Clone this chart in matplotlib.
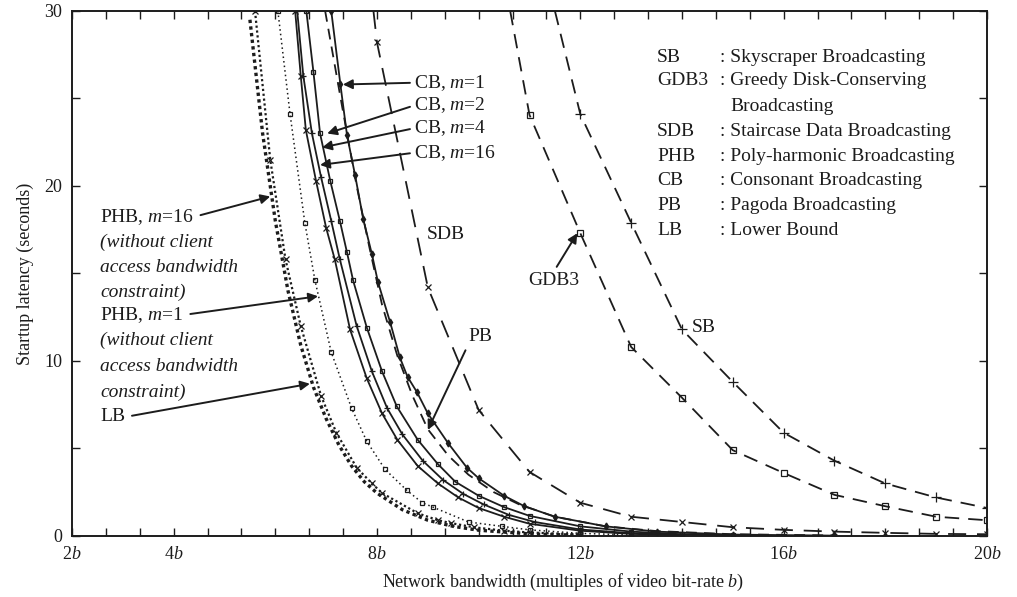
import matplotlib

matplotlib.use("Agg")

import matplotlib.pyplot as plt
from matplotlib.ticker import FixedLocator, FixedFormatter

plt.rcParams["font.family"] = ["Liberation Serif", "DejaVu Serif"]
plt.rcParams["mathtext.fontset"] = "custom"
plt.rcParams["mathtext.rm"] = "Liberation Serif"
plt.rcParams["mathtext.it"] = "Liberation Serif:italic"

INK = "#1c1c1c"

# bandwidth (multiples of b) vs startup latency (s)
LB_X = [5.5, 5.75, 6.0, 6.25, 6.5, 6.75, 7.0, 7.25, 7.5, 7.75, 8.0, 8.5, 9.0, 9.5, 10.0, 11.0, 12.0]
LB_Y = [29.5, 23.0, 18.0, 14.0, 10.9, 8.5, 6.7, 5.2, 4.0, 3.1, 2.45, 1.5, 0.9, 0.55, 0.33, 0.12, 0.04]

PHB16_X = [5.6, 5.9, 6.2, 6.5, 6.9, 7.2, 7.6, 7.9, 8.1, 8.8, 9.2, 9.45, 9.9, 10.5, 11.0, 12.0]
PHB16_Y = [30.0, 21.5, 15.8, 12.0, 8.0, 5.9, 3.9, 3.0, 2.45, 1.3, 0.9, 0.74, 0.5, 0.3, 0.2, 0.08]

PHB1_X = [6.05, 6.29, 6.58, 6.78, 7.1, 7.5, 7.8, 8.16, 8.59, 8.89, 9.1, 9.8, 10.46, 11.0, 12.0, 13.0]
PHB1_Y = [30.0, 24.1, 17.9, 14.6, 10.5, 7.3, 5.4, 3.8, 2.6, 1.9, 1.65, 0.8, 0.55, 0.35, 0.15, 0.06]

CB16_X = [6.39, 6.5, 6.6, 6.8, 7.0, 7.17, 7.47, 7.8, 8.1, 8.4, 8.8, 9.2, 9.6, 10.0, 10.5, 11.0, 12.0, 13.0, 14.0]
CB16_Y = [30.0, 26.3, 23.2, 20.3, 17.6, 15.8, 11.8, 9.0, 7.0, 5.5, 4.0, 3.0, 2.2, 1.6, 1.1, 0.7, 0.3, 0.12, 0.05]

CB4_X = [6.43, 6.55, 6.72, 6.9, 7.1, 7.27, 7.6, 7.9, 8.2, 8.5, 8.9, 9.3, 9.7, 10.1, 10.6, 11.1, 12.0, 13.0, 14.0]
CB4_Y = [30.0, 26.3, 23.0, 20.5, 18.0, 15.8, 12.0, 9.4, 7.3, 5.8, 4.3, 3.2, 2.4, 1.8, 1.2, 0.8, 0.37, 0.16, 0.06]

CB2_X = [6.61, 6.75, 6.88, 7.08, 7.27, 7.41, 7.53, 7.8, 8.1, 8.39, 8.8, 9.2, 9.54, 10.0, 10.5, 11.0, 12.0, 13.0, 14.0, 15.0]
CB2_Y = [30.0, 26.5, 23.0, 20.3, 18.0, 16.2, 14.6, 11.9, 9.4, 7.4, 5.5, 4.1, 3.1, 2.3, 1.65, 1.15, 0.55, 0.25, 0.1, 0.04]

CB1_X = [7.1, 7.28, 7.41, 7.57, 7.73, 7.9, 8.02, 8.26, 8.45, 8.6, 8.79, 9.0, 9.4, 9.77, 10.0, 10.5, 10.9, 11.5,
         12.5, 13.5, 15.0, 17.0]
CB1_Y = [30.0, 25.8, 22.9, 20.6, 18.1, 16.1, 14.5, 12.2, 10.2, 9.1, 8.2, 7.0, 5.3, 3.9, 3.3, 2.3, 1.7, 1.1,
         0.55, 0.25, 0.08, 0.02]

PB_X = [6.98, 7.31, 7.6, 7.85, 8.1, 8.4, 8.7, 9.0, 9.4, 9.8, 10.3, 10.8, 11.5, 12.5, 13.5, 15.0, 17.0]
PB_Y = [30.0, 24.6, 20.0, 16.5, 13.2, 10.3, 8.0, 6.1, 4.6, 3.5, 2.5, 1.8, 1.1, 0.55, 0.28, 0.1, 0.03]

SDB_X = [7.93, 8, 9, 10, 11, 12, 13, 14, 15, 16, 17, 18, 19, 20]
SDB_Y = [30.0, 28.2, 14.2, 7.2, 3.66, 1.9, 1.1, 0.8, 0.5, 0.35, 0.25, 0.18, 0.12, 0.1]

GDB3_X = [10.62, 11, 12, 13, 14, 15, 16, 17, 18, 19, 20]
GDB3_Y = [30.0, 24.06, 17.3, 10.8, 7.9, 4.9, 3.6, 2.35, 1.7, 1.1, 0.9]

SB_X = [11.5, 12, 13, 14, 15, 16, 17, 18, 19, 20]
SB_Y = [30.0, 24.1, 17.9, 11.8, 8.8, 5.9, 4.3, 3.0, 2.2, 1.6]

XTICK_LABELS = {2: "2$b$", 4: "4$b$", 8: "8$b$", 12: "12$b$", 16: "16$b$", 20: "20$b$"}
YTICK_LABELS = {0: "0", 10: "10", 20: "20", 30: "30"}

LEGEND_ABBR = ["SB", "GDB3", "", "SDB", "PHB", "CB", "PB", "LB"]
LEGEND_DESC = [": Skyscraper Broadcasting", ": Greedy Disk-Conserving", "Broadcasting",
               ": Staircase Data Broadcasting", ": Poly-harmonic Broadcasting",
               ": Consonant Broadcasting", ": Pagoda Broadcasting", ": Lower Bound"]

PHB_NOTE = ["(without client", "access bandwidth", "constraint)"]


def mk(marker, size=4.5):
    return dict(marker=marker, markersize=size, markerfacecolor="none",
                markeredgecolor=INK, markeredgewidth=0.9)


fig = plt.figure(figsize=(10.17, 5.97), dpi=100)
ax = fig.add_axes([0.0708, 0.1022, 0.8997, 0.8794])

# dotted family (PHB, LB)
ax.plot(LB_X, LB_Y, color=INK, lw=2.4, linestyle=(0, (1, 1)))
ax.plot(PHB16_X, PHB16_Y, color=INK, lw=1.6, linestyle=(0, (1, 1.2)), **mk("x", 4))
ax.plot(PHB1_X, PHB1_Y, color=INK, lw=1.1, linestyle=(0, (1, 2)), **mk("s", 3.5))

# consonant broadcasting, solid
ax.plot(CB16_X, CB16_Y, color=INK, lw=1.3, **mk("x", 4))
ax.plot(CB4_X, CB4_Y, color=INK, lw=1.3, **mk("+", 4.5))
ax.plot(CB2_X, CB2_Y, color=INK, lw=1.3, **mk("s", 3.5))
ax.plot(CB1_X, CB1_Y, color=INK, lw=1.3, marker="d", markersize=3.5, markerfacecolor=INK,
        markeredgecolor=INK)

# dashed family
ax.plot(PB_X, PB_Y, color=INK, lw=1.3, linestyle=(0, (6, 4)))
ax.plot(SDB_X, SDB_Y, color=INK, lw=1.3, linestyle=(0, (10, 6)), markevery=slice(1, None), **mk("x", 5))
ax.plot(GDB3_X, GDB3_Y, color=INK, lw=1.3, linestyle=(0, (8, 5)), markevery=slice(1, None), **mk("s", 4))
ax.plot(SB_X, SB_Y, color=INK, lw=1.3, linestyle=(0, (8, 5)), markevery=slice(1, None), **mk("+", 7))

ax.set_xlim(2, 20)
ax.set_ylim(0, 30)

xt = [2 + k * 2 / 3 for k in range(28)]
ax.xaxis.set_major_locator(FixedLocator(xt))
ax.xaxis.set_major_formatter(FixedFormatter([XTICK_LABELS.get(round(v), "") if abs(v - round(v)) < 1e-6 else ""
                                             for v in xt]))
ax.yaxis.set_major_locator(FixedLocator([0, 5, 10, 15, 20, 25, 30]))
ax.yaxis.set_major_formatter(FixedFormatter([YTICK_LABELS.get(v, "") for v in [0, 5, 10, 15, 20, 25, 30]]))
ax.tick_params(direction="in", length=6, width=1.0, top=True, right=True, labelsize=13,
               colors=INK, pad=7)
for sp in ax.spines.values():
    sp.set_linewidth(1.4)
    sp.set_color(INK)

ax.set_ylabel("Startup latency (seconds)", fontsize=13, color=INK)
ax.yaxis.set_label_coords(-0.042, 0.5)
ax.set_xlabel("Network bandwidth (multiples of video bit-rate $b$)", fontsize=13, color=INK)
ax.xaxis.set_label_coords(0.537, -0.068)

arrow = dict(arrowstyle="-|>", color=INK, lw=1.4, mutation_scale=14, shrinkA=1, shrinkB=0)
fs = 14

# CB labels
cb_labels = ["CB, $m$=1", "CB, $m$=2", "CB, $m$=4", "CB, $m$=16"]
cb_text_y = [25.9, 24.6, 23.3, 21.9]
cb_tips = [(7.33, 25.8), (7.02, 23.0), (6.92, 22.2), (6.88, 21.2)]
for lab, ty, tip in zip(cb_labels, cb_text_y, cb_tips):
    ax.annotate(lab, xy=tip, xytext=(8.73, ty), fontsize=fs, ha="left", va="center", color=INK,
                arrowprops=dict(arrow, relpos=(0, 0.5)))

# PHB / LB labels on the left
ax.annotate("PHB, $m$=16", xy=(5.9, 19.4), xytext=(2.55, 18.23), fontsize=fs, ha="left", va="center",
            color=INK, arrowprops=dict(arrow, relpos=(1, 0.5), shrinkA=3))
for i, line in enumerate(PHB_NOTE):
    ax.text(2.55, [16.8, 15.37, 13.94][i], line, fontsize=fs, style="italic", ha="left", va="center", color=INK)
ax.annotate("PHB, $m$=1", xy=(6.84, 13.7), xytext=(2.55, 12.63), fontsize=fs, ha="left", va="center",
            color=INK, arrowprops=dict(arrow, relpos=(1, 0.5), shrinkA=3))
for i, line in enumerate(PHB_NOTE):
    ax.text(2.55, [11.2, 9.66, 8.23][i], line, fontsize=fs, style="italic", ha="left", va="center", color=INK)
ax.annotate("LB", xy=(6.68, 8.7), xytext=(2.55, 6.8), fontsize=fs, ha="left", va="center",
            color=INK, arrowprops=dict(arrow, relpos=(1, 0.5), shrinkA=3))

# right-hand labels
ax.text(8.98, 17.2, "SDB", fontsize=fs, ha="left", va="center", color=INK)
ax.annotate("GDB3", xy=(11.94, 17.3), xytext=(10.97, 14.6), fontsize=fs, ha="left", va="center",
            color=INK, arrowprops=dict(arrow, relpos=(0.5, 1), shrinkA=2))
ax.text(14.2, 11.9, "SB", fontsize=fs, ha="left", va="center", color=INK)
ax.annotate("PB", xy=(9.0, 6.06), xytext=(9.79, 11.4), fontsize=fs, ha="left", va="center",
            color=INK, arrowprops=dict(arrow, relpos=(0.0, 0.0), shrinkA=2))

# abbreviation key
key_y = [27.37, 26.0, 24.57, 23.14, 21.71, 20.29, 18.86, 17.43]
for abbr, desc, y in zip(LEGEND_ABBR, LEGEND_DESC, key_y):
    ax.text(13.51, y, abbr, fontsize=fs, ha="left", va="center", color=INK)
    ax.text(14.95 if not desc.startswith(":") else 14.75, y, desc, fontsize=fs, ha="left", va="center",
            color=INK)

fig.savefig("out.png", dpi=100)
